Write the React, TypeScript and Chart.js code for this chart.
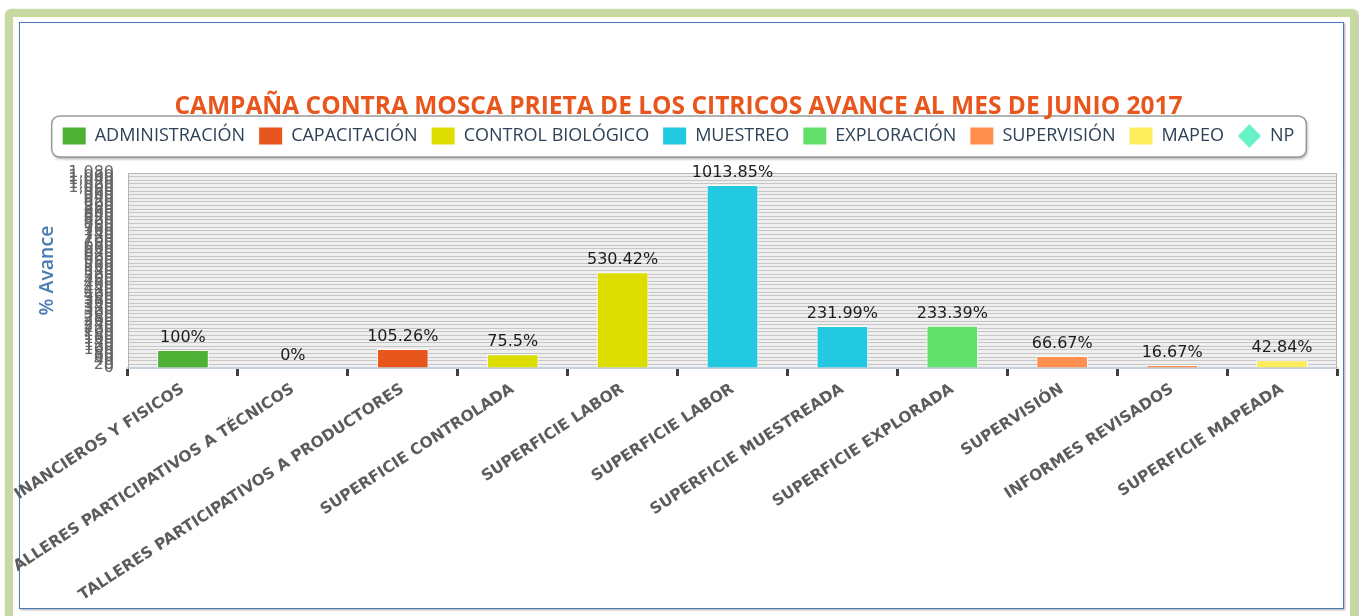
import React, { useEffect, useRef } from 'react';
import { Chart, registerables } from 'chart.js';

Chart.register(...registerables);

const chartTitle = 'CAMPAÑA CONTRA MOSCA PRIETA DE LOS CITRICOS AVANCE AL MES DE JUNIO 2017';
const yAxisTitle = '% Avance';

const categories = [
  'INANCIEROS Y FISICOS',
  'ALLERES PARTICIPATIVOS A TÉCNICOS',
  'TALLERES PARTICIPATIVOS A PRODUCTORES',
  'SUPERFICIE CONTROLADA',
  'SUPERFICIE LABOR',
  'SUPERFICIE LABOR',
  'SUPERFICIE MUESTREADA',
  'SUPERFICIE EXPLORADA',
  'SUPERVISIÓN',
  'INFORMES REVISADOS',
  'SUPERFICIE MAPEADA',
];

const seriesNames = [
  'ADMINISTRACIÓN',
  'CAPACITACIÓN',
  'CONTROL BIOLÓGICO',
  'MUESTREO',
  'EXPLORACIÓN',
  'SUPERVISIÓN',
  'MAPEO',
  'NP',
];
const seriesColors = ['#4db136', '#e9561d', '#dedd00', '#23c8e1', '#62e06c', '#ff8e4f', '#fded5b', '#66f2c6'];
const seriesMarkers = ['rect', 'rect', 'rect', 'rect', 'rect', 'rect', 'rect', 'rectRot'];

const administracion = [100, null, null, null, null, null, null, null, null, null, null];
const capacitacion = [null, 0, 105.26, null, null, null, null, null, null, null, null];
const controlBiologico = [null, null, null, 75.5, 530.42, null, null, null, null, null, null];
const muestreo = [null, null, null, null, null, 1013.85, 231.99, null, null, null, null];
const exploracion = [null, null, null, null, null, null, null, 233.39, null, null, null];
const supervision = [null, null, null, null, null, null, null, null, 66.67, 16.67, null];
const mapeo = [null, null, null, null, null, null, null, null, null, null, 42.84];
const np = [null, null, null, null, null, null, null, null, null, null, null];

const seriesValues = [administracion, capacitacion, controlBiologico, muestreo, exploracion, supervision, mapeo, np];

const yMin = 0;
const yMax = 1080;
const yStep = 20;

function roundRectPath(ctx: CanvasRenderingContext2D, x: number, y: number, w: number, h: number, r: number) {
  ctx.beginPath();
  ctx.moveTo(x + r, y);
  ctx.lineTo(x + w - r, y);
  ctx.arcTo(x + w, y, x + w, y + r, r);
  ctx.lineTo(x + w, y + h - r);
  ctx.arcTo(x + w, y + h, x + w - r, y + h, r);
  ctx.lineTo(x + r, y + h);
  ctx.arcTo(x, y + h, x, y + h - r, r);
  ctx.lineTo(x, y + r);
  ctx.arcTo(x, y, x + r, y, r);
  ctx.closePath();
}

const backgroundPlugin = {
  id: 'backgroundPlugin',
  beforeDraw(chart: any) {
    const { ctx, chartArea: a } = chart;
    ctx.save();
    ctx.fillStyle = '#efefef';
    ctx.fillRect(a.left, a.top, a.right - a.left, a.bottom - a.top);
    const boxes = chart.legend && chart.legend.legendHitBoxes;
    if (boxes && boxes.length) {
      const l = Math.min(...boxes.map((b: any) => b.left)) - 11;
      const r = Math.max(...boxes.map((b: any) => b.left + b.width)) + 12;
      const t = Math.min(...boxes.map((b: any) => b.top)) - 11;
      const bt = Math.max(...boxes.map((b: any) => b.top + b.height)) + 12;
      ctx.shadowColor = 'rgba(0,0,0,0.35)';
      ctx.shadowOffsetX = 1;
      ctx.shadowOffsetY = 2;
      ctx.shadowBlur = 3;
      roundRectPath(ctx, l, t, r - l, bt - t, 8);
      ctx.fillStyle = '#ffffff';
      ctx.fill();
      ctx.shadowColor = 'transparent';
      ctx.lineWidth = 1.5;
      ctx.strokeStyle = '#9a9a9a';
      ctx.stroke();
    }
    ctx.restore();
  },
  beforeDatasetsDraw(chart: any) {
    const { ctx, chartArea: a } = chart;
    ctx.save();
    ctx.strokeStyle = '#b4b4b4';
    ctx.lineWidth = 1;
    ctx.beginPath();
    ctx.moveTo(a.left + 0.5, a.bottom);
    ctx.lineTo(a.left + 0.5, a.top + 0.5);
    ctx.lineTo(a.right - 0.5, a.top + 0.5);
    ctx.lineTo(a.right - 0.5, a.bottom);
    ctx.stroke();
    ctx.restore();
  },
};

const valueLabelPlugin = {
  id: 'valueLabelPlugin',
  afterDatasetsDraw(chart: any) {
    const { ctx } = chart;
    ctx.save();
    ctx.font = '16px "DejaVu Sans"';
    ctx.fillStyle = '#1c1c1c';
    ctx.textAlign = 'center';
    ctx.textBaseline = 'alphabetic';
    chart.data.datasets.forEach((ds: any, i: number) => {
      const meta = chart.getDatasetMeta(i);
      ds.data.forEach((v: number | null, j: number) => {
        if (v === null || v === undefined) return;
        const el = meta.data[j];
        if (!el) return;
        ctx.fillText(`${v}%`, el.x, el.y - 8);
      });
    });
    ctx.restore();
  },
};

export default function App() {
  const ref = useRef<HTMLCanvasElement>(null);

  useEffect(() => {
    if (!ref.current) return;
    const chart = new Chart(ref.current, {
      type: 'bar',
      data: {
        labels: categories,
        datasets: seriesNames.map((name, i) => ({
          label: name,
          data: seriesValues[i],
          backgroundColor: seriesColors[i],
          borderColor: '#ffffff',
          borderWidth: 1,
          grouped: false,
          barPercentage: 0.47,
          categoryPercentage: 1,
        })),
      },
      options: {
        responsive: false,
        animation: false,
        events: [],
        layout: { padding: { left: 20, right: 22, top: 23, bottom: 0 } },
        plugins: {
          tooltip: { enabled: false },
          title: {
            display: true,
            text: chartTitle,
            color: '#e8561e',
            font: { family: 'Open Sans', size: 24.5, weight: 'bold', lineHeight: 0.2 },
            padding: { top: 81.5, bottom: 3.6 },
          },
          legend: {
            display: true,
            position: 'top',
            labels: {
              usePointStyle: true,
              pointStyleWidth: 23,
              boxHeight: 17,
              padding: 14,
              color: '#2e4257',
              font: { family: 'Open Sans', size: 18 },
              generateLabels: (c: any) =>
                c.data.datasets.map((ds: any, i: number) => ({
                  text: ds.label,
                  fillStyle: seriesColors[i],
                  strokeStyle: seriesColors[i],
                  lineWidth: 0,
                  pointStyle: seriesMarkers[i],
                  hidden: false,
                  datasetIndex: i,
                  fontColor: '#2e4257',
                })),
            },
          },
        },
        scales: {
          x: {
            type: 'category',
            offset: true,
            grid: {
              display: true,
              drawOnChartArea: false,
              drawTicks: true,
              tickLength: 8,
              tickWidth: 3,
              tickColor: '#3d3d3d',
              offset: true,
            },
            border: { display: true, color: '#c4d0dc', width: 2 },
            ticks: {
              autoSkip: false,
              minRotation: 33,
              maxRotation: 33,
              padding: 4,
              color: '#5c5c5c',
              font: { family: 'DejaVu Sans', size: 15.5, weight: 'bold' },
            },
            afterFit: (s: any) => {
              s.height = 248;
              s.paddingLeft = 0;
              s.paddingRight = 0;
            },
          },
          xTop: {
            type: 'category',
            position: 'top',
            display: true,
            grid: { display: false, drawTicks: false },
            border: { display: false },
            ticks: { display: false },
            afterFit: (s: any) => {
              s.height = 18;
              s.paddingLeft = 0;
              s.paddingRight = 0;
            },
          },
          y: {
            min: yMin,
            max: yMax,
            ticks: {
              stepSize: yStep,
              autoSkip: false,
              padding: 14,
              color: '#666666',
              font: { family: 'DejaVu Sans', size: 16 },
            },
            grid: { color: '#c6c6c6', drawTicks: false, lineWidth: 1 },
            border: { display: true, color: '#b4b4b4' },
            title: {
              display: true,
              text: yAxisTitle,
              color: '#4a7cb2',
              font: { family: 'Open Sans', size: 19.5, weight: '600' },
              padding: { top: 16, bottom: 0 },
            },
            afterFit: (s: any) => {
              s.width = 108;
            },
          },
        },
      } as any,
      plugins: [backgroundPlugin, valueLabelPlugin],
    });
    return () => chart.destroy();
  }, []);

  return (
    <div
      style={{
        position: 'fixed',
        left: 0,
        top: 0,
        width: 1359,
        height: 616,
        overflow: 'hidden',
        background: '#ffffff',
      }}
    >
      <div
        style={{
          position: 'absolute',
          left: 5,
          top: 9,
          width: 1353,
          height: 700,
          boxSizing: 'border-box',
          border: '8px solid #c5d9a1',
          borderRadius: 6,
          boxShadow: '1px 1px 3px rgba(0,0,0,0.3)',
        }}
      />
      <div
        style={{
          position: 'absolute',
          left: 19,
          top: 22,
          width: 1325,
          height: 587,
          boxSizing: 'border-box',
          border: '1px solid #4a7cb8',
          boxShadow: '1px 1px 2px rgba(0,0,0,0.35)',
        }}
      />
      <canvas
        ref={ref}
        width={1359}
        height={616}
        style={{ position: 'absolute', left: 0, top: 0, width: 1359, height: 616 }}
      />
    </div>
  );
}
